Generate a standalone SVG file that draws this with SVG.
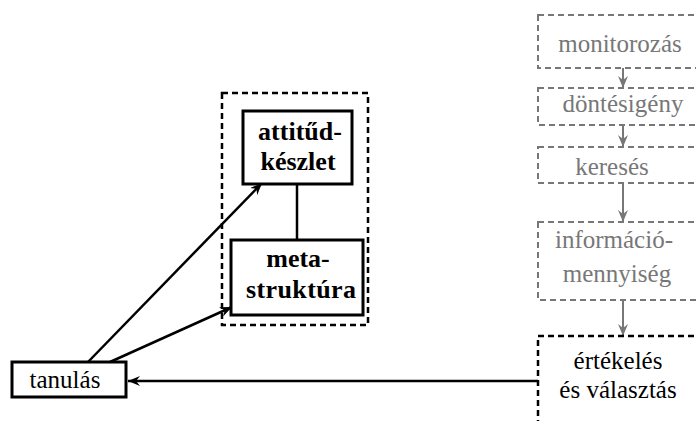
<svg xmlns="http://www.w3.org/2000/svg" width="696" height="421" viewBox="0 0 696 421">
<defs>
<marker id="ah" viewBox="0 0 12 10" refX="12" refY="5" markerWidth="12" markerHeight="10" markerUnits="userSpaceOnUse" orient="auto">
<path d="M0,0 L12,5 L0,10 L4,5 Z" fill="#000"/>
</marker>
<marker id="gah" viewBox="0 0 12 10" refX="12" refY="5" markerWidth="12" markerHeight="10" markerUnits="userSpaceOnUse" orient="auto">
<path d="M0,0 L12,5 L0,10 L4,5 Z" fill="#777"/>
</marker>
</defs>
<rect width="696" height="421" fill="#fff"/>
<g id="group-box"><rect x="222" y="93" width="146" height="232" fill="none" stroke="#000" stroke-width="2.5" stroke-dasharray="6 4"/></g>
<g id="connectors" fill="none">
<g stroke="#000" stroke-width="2.5">
<line x1="297" y1="184" x2="297" y2="240"/>
<line x1="88" y1="362" x2="262" y2="183" marker-end="url(#ah)"/>
<line x1="110" y1="362" x2="232" y2="307" marker-end="url(#ah)"/>
<line x1="538" y1="381" x2="128" y2="381" marker-end="url(#ah)"/>
</g>
<g stroke="#777" stroke-width="2">
<line x1="623" y1="68" x2="623" y2="88" marker-end="url(#gah)"/>
<line x1="623" y1="125" x2="623" y2="147" marker-end="url(#gah)"/>
<line x1="623" y1="183" x2="623" y2="222" marker-end="url(#gah)"/>
<line x1="623" y1="300" x2="623" y2="336" marker-end="url(#gah)"/>
</g>
</g>
<g id="attitud">
<rect x="243" y="111" width="109" height="73" fill="#fff" stroke="#000" stroke-width="3"/>
<text x="300" y="140" font-family="Liberation Serif" font-size="26" font-weight="bold" text-anchor="middle">attitűd-</text>
<text x="298" y="170" font-family="Liberation Serif" font-size="26" font-weight="bold" text-anchor="middle">készlet</text>
</g>
<g id="meta">
<rect x="231" y="240" width="132" height="75" fill="#fff" stroke="#000" stroke-width="3"/>
<text x="298" y="267" font-family="Liberation Serif" font-size="26" font-weight="bold" text-anchor="middle">meta-</text>
<text x="301" y="298" font-family="Liberation Serif" font-size="26" font-weight="bold" text-anchor="middle" textLength="110" lengthAdjust="spacing">struktúra</text>
</g>
<g id="tanulas">
<rect x="12" y="362" width="114" height="35" fill="#fff" stroke="#000" stroke-width="3"/>
<text x="65" y="388" font-family="Liberation Serif" font-size="25" text-anchor="middle">tanulás</text>
</g>
<g id="monitorozas">
<rect x="538" y="15" width="170" height="53" fill="#fff" stroke="#777" stroke-width="2" stroke-dasharray="6 4"/>
<text x="620" y="52" font-family="Liberation Serif" font-size="25" text-anchor="middle" fill="#777">monitorozás</text>
</g>
<g id="dontesigeny">
<rect x="538" y="88" width="170" height="37" fill="#fff" stroke="#777" stroke-width="2" stroke-dasharray="6 4"/>
<text x="623" y="112" font-family="Liberation Serif" font-size="25" text-anchor="middle" fill="#777">döntésigény</text>
</g>
<g id="kereses">
<rect x="538" y="147" width="170" height="36" fill="#fff" stroke="#777" stroke-width="2" stroke-dasharray="6 4"/>
<text x="612" y="175" font-family="Liberation Serif" font-size="25" text-anchor="middle" fill="#777">keresés</text>
</g>
<g id="informacio">
<rect x="538" y="222" width="170" height="78" fill="#fff" stroke="#777" stroke-width="2" stroke-dasharray="6 4"/>
<text x="614" y="248" font-family="Liberation Serif" font-size="25" text-anchor="middle" fill="#777">információ-</text>
<text x="617" y="282" font-family="Liberation Serif" font-size="25" text-anchor="middle" fill="#777">mennyiség</text>
</g>
<g id="ertekeles">
<rect x="538" y="336" width="170" height="100" fill="#fff" stroke="#000" stroke-width="2.5" stroke-dasharray="6 4"/>
<text x="618" y="369" font-family="Liberation Serif" font-size="25" text-anchor="middle">értékelés</text>
<text x="618" y="398" font-family="Liberation Serif" font-size="25" text-anchor="middle">és választás</text>
</g>
</svg>
